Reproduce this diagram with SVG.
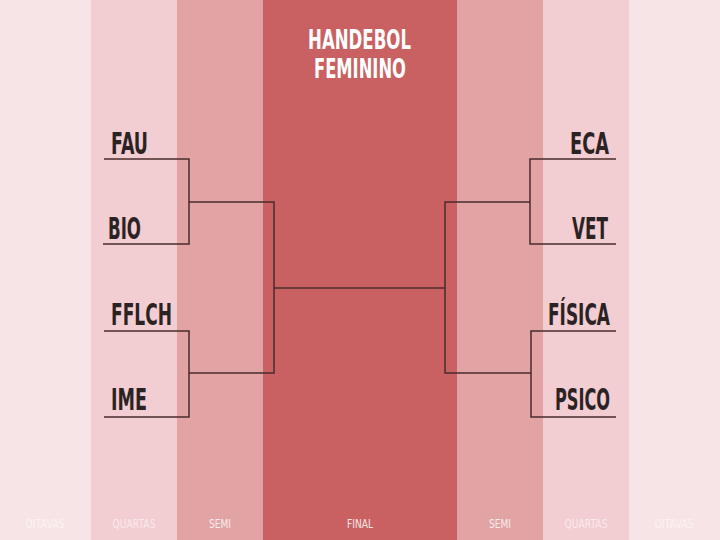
<svg xmlns="http://www.w3.org/2000/svg" width="720" height="540" viewBox="0 0 720 540">
<style>
.team{font-family:"DejaVu Sans","Liberation Sans",sans-serif;font-weight:bold;font-size:30px;fill:#2b2323;}
.title{font-family:"DejaVu Sans","Liberation Sans",sans-serif;font-weight:bold;font-size:26px;fill:#ffffff;}
.lab{font-family:"DejaVu Sans","Liberation Sans",sans-serif;font-size:13px;fill:#ffffff;text-anchor:middle;}
.ln{stroke:#4a2c2c;stroke-width:1.5;fill:none;}
</style>
<g id="background">
<rect x="0" y="0" width="91" height="540" fill="#f7e4e6"/>
<rect x="91" y="0" width="86" height="540" fill="#f2cdd1"/>
<rect x="177" y="0" width="86" height="540" fill="#e2a3a5"/>
<rect x="263" y="0" width="194" height="540" fill="#c96163"/>
<rect x="457" y="0" width="86" height="540" fill="#e2a3a5"/>
<rect x="543" y="0" width="86" height="540" fill="#f2cdd1"/>
<rect x="629" y="0" width="91" height="540" fill="#f7e4e6"/>
</g>
<g id="title">
<text class="title" x="308" y="49" textLength="103" lengthAdjust="spacingAndGlyphs">HANDEBOL</text>
<text class="title" x="314" y="78" textLength="92" lengthAdjust="spacingAndGlyphs">FEMININO</text>
</g>
<g id="labels">
<text class="lab" x="45" y="528" opacity="0.55" textLength="39" lengthAdjust="spacingAndGlyphs">OITAVAS</text>
<text class="lab" x="134" y="528" opacity="0.6" textLength="43" lengthAdjust="spacingAndGlyphs">QUARTAS</text>
<text class="lab" x="220" y="528" opacity="0.8" textLength="22" lengthAdjust="spacingAndGlyphs">SEMI</text>
<text class="lab" x="360" y="528" opacity="0.85" textLength="26" lengthAdjust="spacingAndGlyphs">FINAL</text>
<text class="lab" x="500" y="528" opacity="0.8" textLength="22" lengthAdjust="spacingAndGlyphs">SEMI</text>
<text class="lab" x="586" y="528" opacity="0.6" textLength="43" lengthAdjust="spacingAndGlyphs">QUARTAS</text>
<text class="lab" x="674" y="528" opacity="0.55" textLength="39" lengthAdjust="spacingAndGlyphs">OITAVAS</text>
</g>
<g id="team-fau"><text class="team" x="111" y="154" textLength="37" lengthAdjust="spacingAndGlyphs">FAU</text></g>
<g id="team-bio"><text class="team" x="108" y="239" textLength="33" lengthAdjust="spacingAndGlyphs">BIO</text></g>
<g id="team-fflch"><text class="team" x="111" y="325" textLength="61" lengthAdjust="spacingAndGlyphs">FFLCH</text></g>
<g id="team-ime"><text class="team" x="111" y="410" textLength="36" lengthAdjust="spacingAndGlyphs">IME</text></g>
<g id="team-eca"><text class="team" x="570" y="154" textLength="39" lengthAdjust="spacingAndGlyphs">ECA</text></g>
<g id="team-vet"><text class="team" x="572" y="239" textLength="36" lengthAdjust="spacingAndGlyphs">VET</text></g>
<g id="team-fisica"><text class="team" x="548" y="325" textLength="62" lengthAdjust="spacingAndGlyphs">FÍSICA</text></g>
<g id="team-psico"><text class="team" x="555" y="410" textLength="55" lengthAdjust="spacingAndGlyphs">PSICO</text></g>
<g id="connectors">
<polyline class="ln" points="104,159 189,159 189,244 103,244"/>
<polyline class="ln" points="104,331 189,331 189,417 104,417"/>
<polyline class="ln" points="189,202 274,202 274,373 189,373"/>
<line class="ln" x1="274" y1="288" x2="445" y2="288"/>
<polyline class="ln" points="616,159 530,159 530,244 616,244"/>
<polyline class="ln" points="616,331 531,331 531,417 616,417"/>
<polyline class="ln" points="530,202 445,202 445,373 531,373"/>
</g>
</svg>
